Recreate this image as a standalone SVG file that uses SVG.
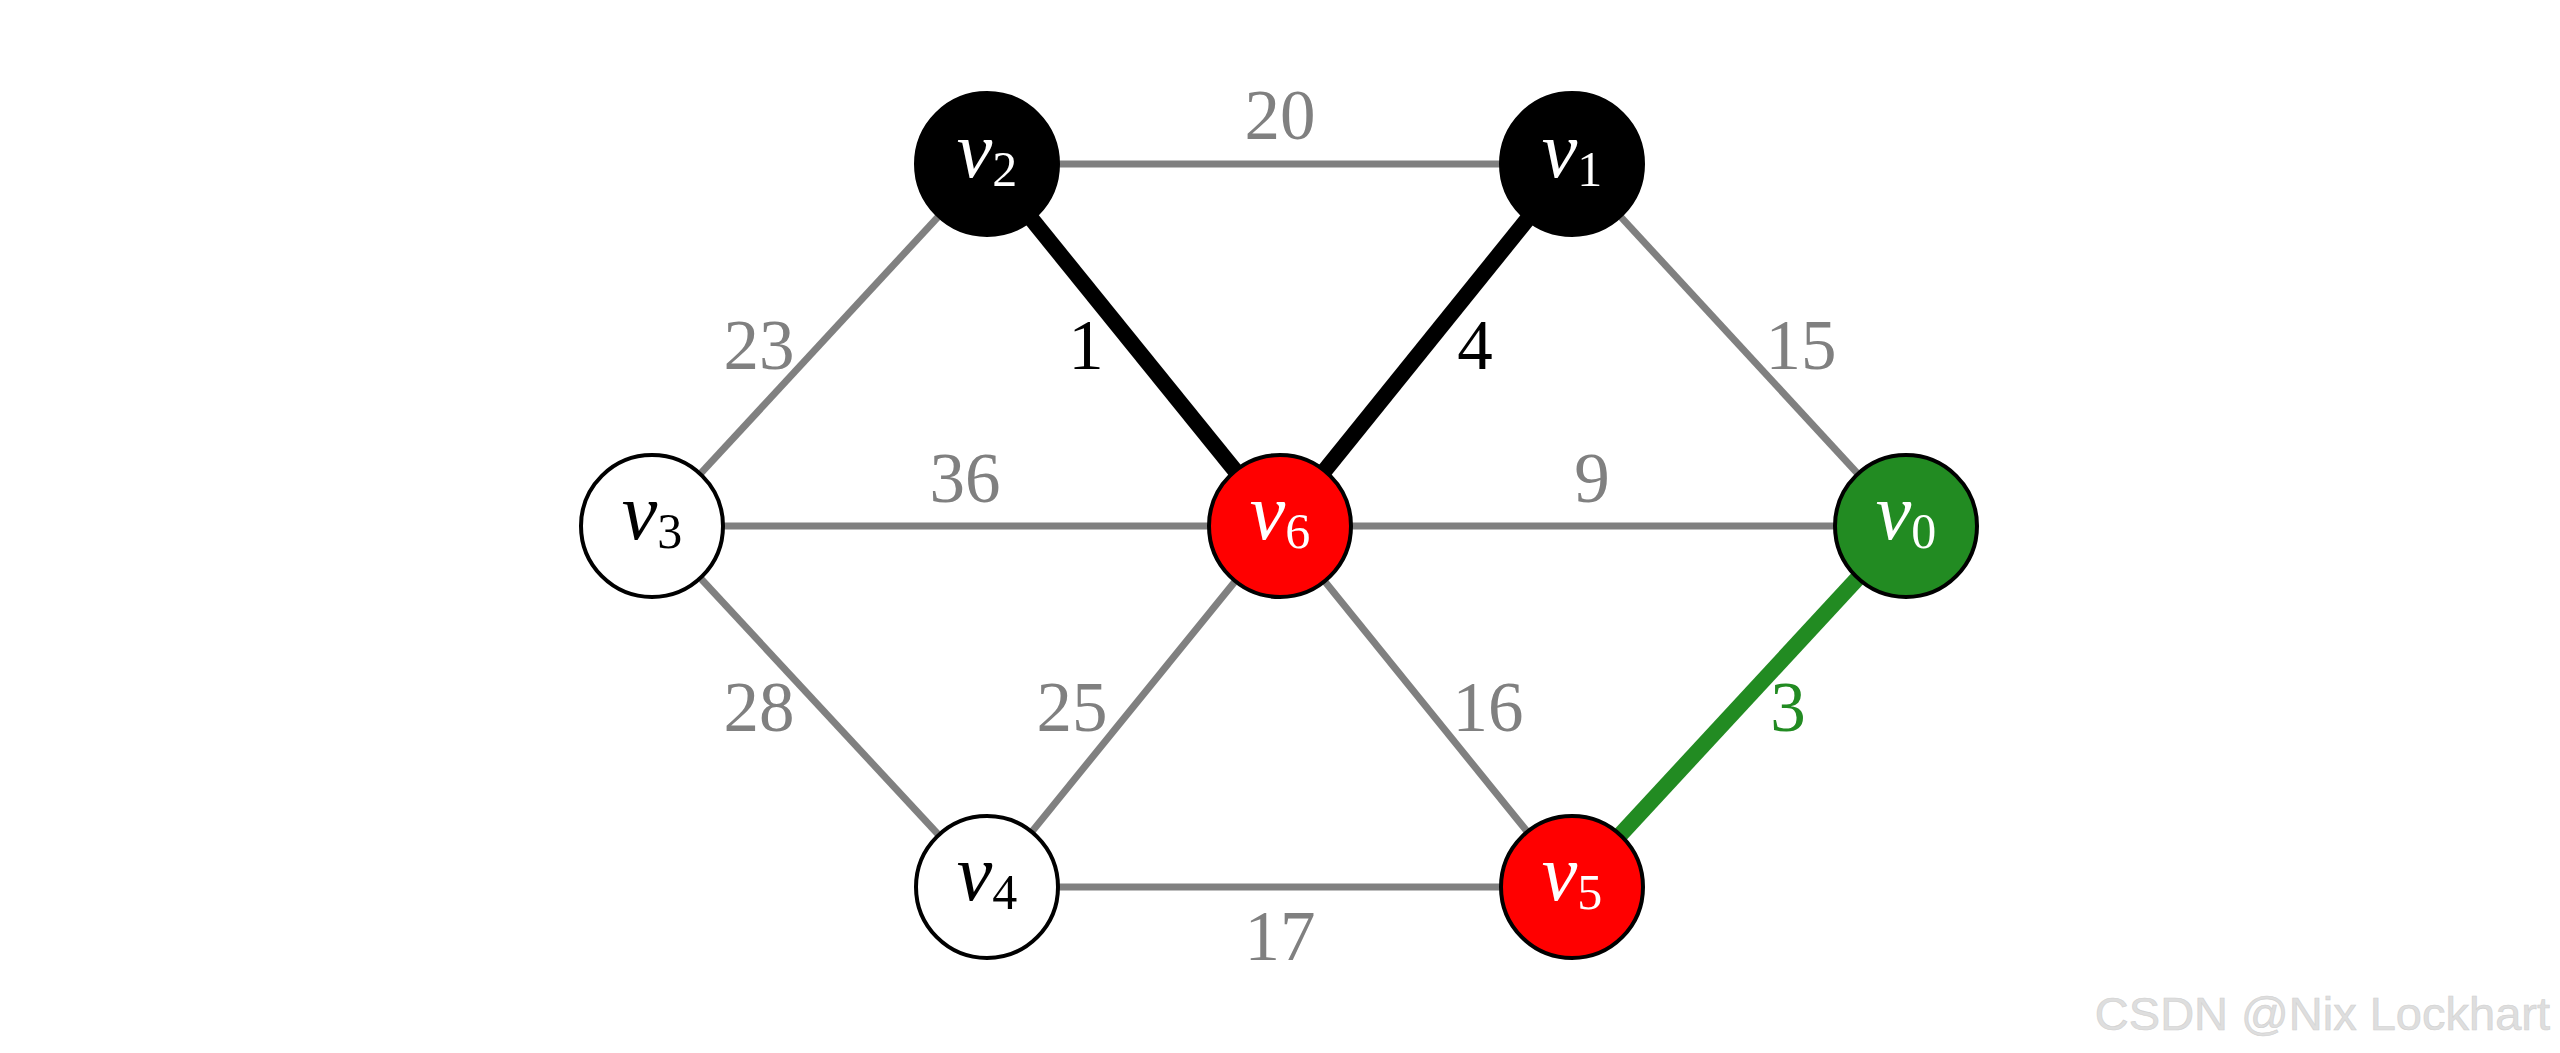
<svg xmlns="http://www.w3.org/2000/svg" width="2560" height="1053" viewBox="0 0 2560 1053">
<style>
.e{stroke:#808080;stroke-width:7;fill:none}
.eb{stroke:#000;stroke-width:16;fill:none}
.eg{stroke:#228B22;stroke-width:16;fill:none}
.n{stroke:#000;stroke-width:4}
.lbl{font-family:"Liberation Serif","DejaVu Serif",serif;font-size:71px;text-anchor:middle;fill:#808080}
.nl{font-family:"Liberation Serif","DejaVu Serif",serif;text-anchor:middle}
.v{font-style:italic;font-size:80px}
.s{font-size:50px}
.wm{font-family:"Liberation Sans",Arial,sans-serif;font-size:47px;fill:#dedede;stroke:#d0d0d0;stroke-width:0.6;text-anchor:end}
</style>
<rect width="2560" height="1053" fill="#fff"/>
<g id="edges">
<line class="e" x1="987" y1="164" x2="1572" y2="164"/>
<line class="e" x1="652" y1="526" x2="987" y2="164"/>
<line class="e" x1="652" y1="526" x2="1280" y2="526"/>
<line class="e" x1="652" y1="526" x2="987" y2="887"/>
<line class="e" x1="1280" y1="526" x2="1906" y2="526"/>
<line class="e" x1="1572" y1="164" x2="1906" y2="526"/>
<line class="e" x1="1280" y1="526" x2="987" y2="887"/>
<line class="e" x1="1280" y1="526" x2="1572" y2="887"/>
<line class="e" x1="987" y1="887" x2="1572" y2="887"/>
<line class="eb" x1="987" y1="164" x2="1280" y2="526"/>
<line class="eb" x1="1572" y1="164" x2="1280" y2="526"/>
<line class="eg" x1="1572" y1="887" x2="1906" y2="526"/>
</g>
<g id="edge-labels">
<text class="lbl" x="1280" y="139">20</text>
<text class="lbl" x="759" y="369">23</text>
<text class="lbl" x="1086" y="369" style="fill:#000">1</text>
<text class="lbl" x="1475" y="369" style="fill:#000">4</text>
<text class="lbl" x="1801" y="369">15</text>
<text class="lbl" x="965" y="502">36</text>
<text class="lbl" x="1592" y="502">9</text>
<text class="lbl" x="759" y="731">28</text>
<text class="lbl" x="1072" y="731">25</text>
<text class="lbl" x="1488" y="731">16</text>
<text class="lbl" x="1788" y="731" style="fill:#228B22">3</text>
<text class="lbl" x="1280" y="960">17</text>
</g>
<g id="v0"><circle class="n" cx="1906" cy="526" r="71" fill="#228B22"/><text class="nl" x="1906" y="539" fill="#fff"><tspan class="v">v</tspan><tspan class="s" dy="9">0</tspan></text></g>
<g id="v1"><circle class="n" cx="1572" cy="164" r="71" fill="#000"/><text class="nl" x="1572" y="177" fill="#fff"><tspan class="v">v</tspan><tspan class="s" dy="9">1</tspan></text></g>
<g id="v2"><circle class="n" cx="987" cy="164" r="71" fill="#000"/><text class="nl" x="987" y="177" fill="#fff"><tspan class="v">v</tspan><tspan class="s" dy="9">2</tspan></text></g>
<g id="v3"><circle class="n" cx="652" cy="526" r="71" fill="#fff"/><text class="nl" x="652" y="539" fill="#000"><tspan class="v">v</tspan><tspan class="s" dy="9">3</tspan></text></g>
<g id="v4"><circle class="n" cx="987" cy="887" r="71" fill="#fff"/><text class="nl" x="987" y="900" fill="#000"><tspan class="v">v</tspan><tspan class="s" dy="9">4</tspan></text></g>
<g id="v5"><circle class="n" cx="1572" cy="887" r="71" fill="#ff0000"/><text class="nl" x="1572" y="900" fill="#fff"><tspan class="v">v</tspan><tspan class="s" dy="9">5</tspan></text></g>
<g id="v6"><circle class="n" cx="1280" cy="526" r="71" fill="#ff0000"/><text class="nl" x="1280" y="539" fill="#fff"><tspan class="v">v</tspan><tspan class="s" dy="9">6</tspan></text></g>
<text class="wm" x="2550" y="1030">CSDN @Nix Lockhart</text>
</svg>
